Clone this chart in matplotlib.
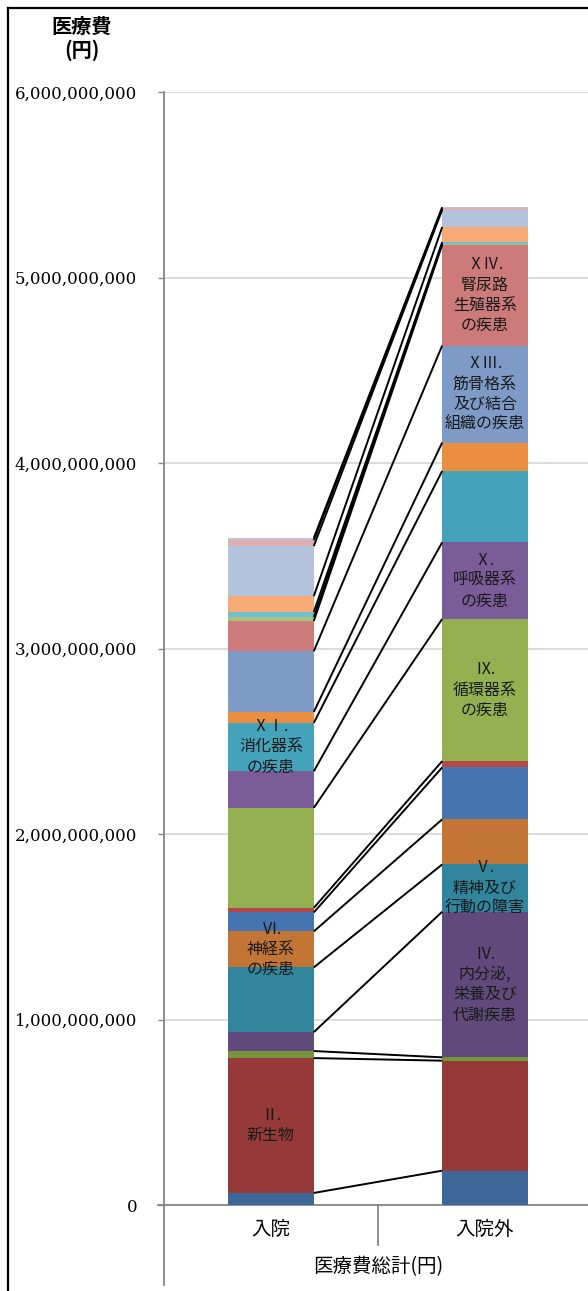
import numpy as np
import matplotlib.pyplot as plt
from matplotlib.lines import Line2D

JP = ['Noto Sans CJK JP', 'DejaVu Sans']
plt.rcParams['font.family'] = JP

# Medical expenditure (yen) by ICD chapter, stacked bottom to top
categories = ['入院', '入院外']
chapters = ['Ⅰ', 'Ⅱ', 'Ⅲ', 'Ⅳ', 'Ⅴ', 'Ⅵ', 'Ⅶ', 'Ⅷ', 'Ⅸ', 'Ⅹ',
            'ⅩⅠ', 'ⅩⅡ', 'ⅩⅢ', 'ⅩⅣ', 'ⅩⅤ', 'ⅩⅥ', 'ⅩⅦ', 'ⅩⅧ', 'ⅩⅨ', 'ⅩⅩ']
inpatient = [65, 727, 38, 102, 349, 194, 102, 25, 539, 197,
             261, 59, 327, 163, 22, 27, 85, 270, 31, 13]
outpatient = [185, 593, 18, 785, 255, 243, 280, 34, 766, 413,
              385, 153, 523, 543, 7, 8, 81, 93, 9, 5]
inpatient = np.array(inpatient) * 1e6
outpatient = np.array(outpatient) * 1e6

colors = ['#3D6699', '#953A38', '#77933C', '#604A7B', '#31859C', '#C27535',
          '#4674B0', '#B54846', '#93B151', '#7A5C99', '#44A2BA', '#EA8F42',
          '#7E9BC8', '#CC7B7A', '#A8C47A', '#70BED1', '#F7A976', '#B4C3DD',
          '#DDB0B0', '#C8C0DA']

# Labels written inside segments: (bar index, chapter index, text)
seg_labels = [
    (0, 1, 'Ⅱ.\n新生物'),
    (0, 5, 'Ⅵ.\n神経系\nの疾患'),
    (0, 10, 'ⅩⅠ.\n消化器系\nの疾患'),
    (1, 3, 'Ⅳ.\n内分泌,\n栄養及び\n代謝疾患'),
    (1, 4, 'Ⅴ.\n精神及び\n行動の障害'),
    (1, 8, 'Ⅸ.\n循環器系\nの疾患'),
    (1, 9, 'Ⅹ.\n呼吸器系\nの疾患'),
    (1, 12, 'ⅩⅢ.\n筋骨格系\n及び結合\n組織の疾患'),
    (1, 13, 'ⅩⅣ.\n腎尿路\n生殖器系\nの疾患'),
]

W, H = 588, 1291
fig = plt.figure(figsize=(W / 100, H / 100), dpi=100)
ax = fig.add_axes([164 / W, (H - 1205) / H, 428 / W, (1205 - 92) / H])

width = 0.4
x = np.arange(len(categories))
data = np.vstack([inpatient, outpatient])
bottoms = np.zeros(len(categories))
for i in range(len(chapters)):
    ax.bar(x, data[:, i], width, bottom=bottoms, color=colors[i], zorder=3)
    bottoms += data[:, i]

tops = np.cumsum(data, axis=1)

# Series lines joining the top of each segment across the two bars
for i in range(len(chapters)):
    ax.plot([x[0] + width / 2, x[1] - width / 2], [tops[0, i], tops[1, i]],
            color='black', lw=1.4, zorder=4, solid_capstyle='butt')

for b, i, txt in seg_labels:
    y = tops[b, i] - data[b, i] / 2
    ax.text(x[b], y, txt, ha='center', va='center', fontsize=11.5,
            linespacing=1.25, color='#1a1a1a', zorder=5)

ax.set_xlim(-0.5, 1.5)
ax.set_ylim(0, 6e9)
ax.set_yticks(np.arange(0, 6e9 + 1, 1e9))
ax.set_yticklabels([f'{int(v):,}' for v in np.arange(0, 6e9 + 1, 1e9)],
                   family='DejaVu Serif', fontsize=12)
ax.yaxis.grid(True, color='#D9D9D9', lw=1.3, zorder=0)
ax.tick_params(axis='y', length=4.3, width=1, color='#868686', pad=15)

ax.set_xticks(x)
ax.set_xticklabels(categories, fontsize=14)
ax.tick_params(axis='x', length=0, pad=10)
ax.set_xlabel('医療費総計(円)', fontsize=14, labelpad=12)

for s in ['top', 'right']:
    ax.spines[s].set_visible(False)
ax.spines['left'].set_visible(False)
ax.spines['bottom'].set_color('#868686')
ax.spines['bottom'].set_linewidth(1.3)

# Category axis lines: value axis extended down and the divider between groups
trans = ax.get_xaxis_transform()
ax.add_line(Line2D([-0.5, -0.5], [1.0, -80 / 1113], transform=trans,
                   color='#868686', lw=1.3, clip_on=False))
ax.add_line(Line2D([0.5, 0.5], [0, -40 / 1113], transform=trans,
                   color='#868686', lw=1.3, clip_on=False))
ax.add_line(Line2D([-0.53, -0.5], [0, 0], transform=trans,
                   color='#868686', lw=1.3, clip_on=False))

fig.text(82 / W, 1 - 38 / H, '医療費\n(円)', ha='center', va='center',
         fontsize=14.5, fontweight='bold', linespacing=1.15)

# Chart area border
fig.add_artist(Line2D([8 / W, 8 / W], [0, 1 - 8 / H], color='black', lw=1.6))
fig.add_artist(Line2D([8 / W, 1], [1 - 8 / H, 1 - 8 / H], color='black', lw=1.6))

fig.savefig('out.png', dpi=100)
plt.close(fig)
